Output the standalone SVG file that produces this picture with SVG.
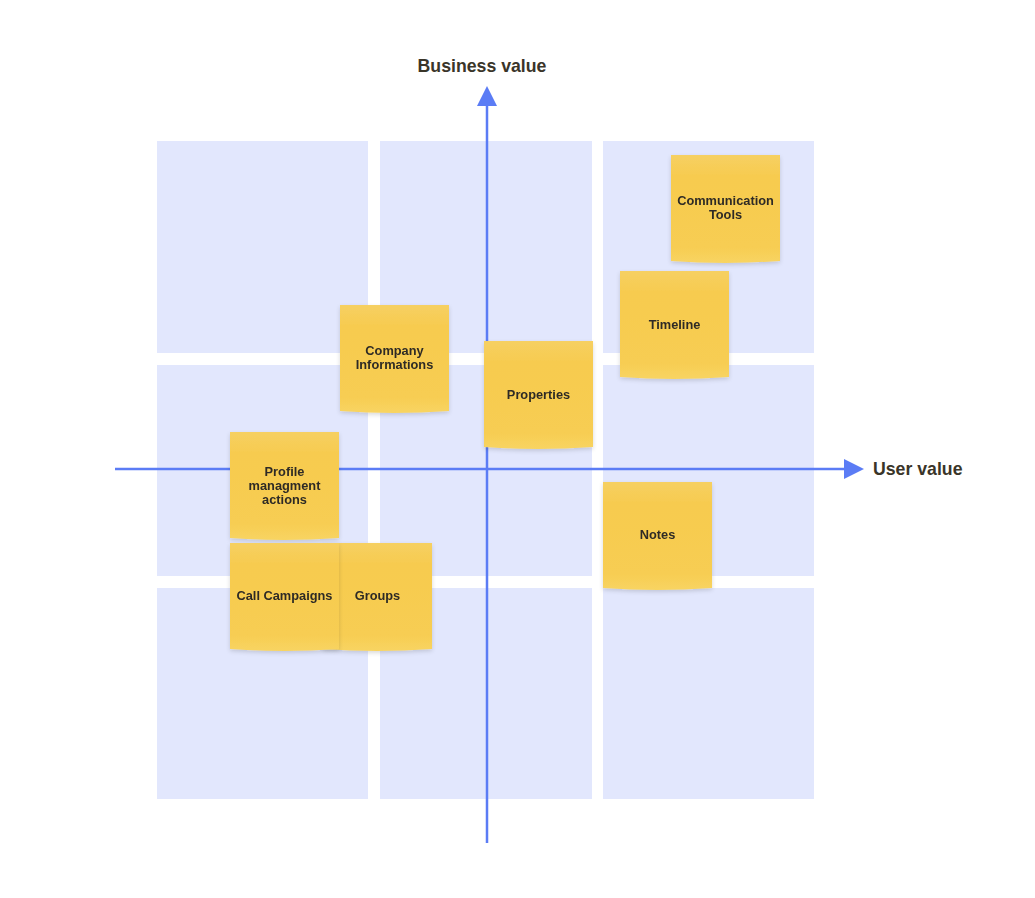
<svg xmlns="http://www.w3.org/2000/svg" width="1035" height="898" viewBox="0 0 1035 898">
<style>
.cell{fill:#E2E7FD}
.note{fill:url(#ng)}
.nt{font-family:"Liberation Sans",Arial,sans-serif;font-weight:bold;font-size:12.8px;fill:#2E2B25;text-anchor:middle}
.ax{stroke:#5B7CF5;stroke-width:2.5;fill:none}
.al{font-family:"Liberation Sans",Arial,sans-serif;font-weight:bold;font-size:17.7px;fill:#3A3529}
</style>
<defs>
<linearGradient id="ng" x1="0" y1="0" x2="0" y2="1">
<stop offset="0" stop-color="#F6D062"/>
<stop offset="0.2" stop-color="#F7CB4F"/>
<stop offset="0.85" stop-color="#F7CD52"/>
<stop offset="1" stop-color="#F8D462"/>
</linearGradient>
<filter id="sh" x="-10%" y="-10%" width="120%" height="125%">
<feDropShadow dx="0" dy="2" stdDeviation="2" flood-color="#000" flood-opacity="0.15"/>
</filter>
</defs>
<rect width="1035" height="898" fill="#fff"/>
<g id="grid">
<rect class="cell" x="157" y="141" width="211" height="212"/>
<rect class="cell" x="380" y="141" width="212" height="212"/>
<rect class="cell" x="603" y="141" width="211" height="212"/>
<rect class="cell" x="157" y="365" width="211" height="211"/>
<rect class="cell" x="380" y="365" width="212" height="211"/>
<rect class="cell" x="603" y="365" width="211" height="211"/>
<rect class="cell" x="157" y="588" width="211" height="211"/>
<rect class="cell" x="380" y="588" width="212" height="211"/>
<rect class="cell" x="603" y="588" width="211" height="211"/>
</g>
<g id="connectors">
<line class="ax" x1="487" y1="843" x2="487" y2="103"/>
<path d="M477,106 L487,86 L497,106 z" fill="#5B7CF5"/>
<line class="ax" x1="115" y1="469" x2="846" y2="469"/>
<path d="M844,459 L864,469 L844,479 z" fill="#5B7CF5"/>
</g>
<text class="al" x="482" y="72" text-anchor="middle">Business value</text>
<text class="al" x="873" y="475">User value</text>
<g id="n-comm" filter="url(#sh)">
<path class="note" d="M671,155 H780 V261 Q725,265 671,261 Z"/>
<text class="nt" x="725.5" y="205">Communication</text>
<text class="nt" x="725.5" y="219">Tools</text>
</g>
<g id="n-timeline" filter="url(#sh)">
<path class="note" d="M620,271 H729 V377 Q674,381 620,377 Z"/>
<text class="nt" x="674.5" y="328.5">Timeline</text>
</g>
<g id="n-company" filter="url(#sh)">
<path class="note" d="M340,305 H449 V411 Q394,415 340,411 Z"/>
<text class="nt" x="394.5" y="355">Company</text>
<text class="nt" x="394.5" y="369">Informations</text>
</g>
<g id="n-properties" filter="url(#sh)">
<path class="note" d="M484,341 H593 V447 Q538,451 484,447 Z"/>
<text class="nt" x="538.5" y="398.5">Properties</text>
</g>
<g id="n-profile" filter="url(#sh)">
<path class="note" d="M230,432 H339 V538 Q284,542 230,538 Z"/>
<text class="nt" x="284.5" y="476">Profile</text>
<text class="nt" x="284.5" y="490">managment</text>
<text class="nt" x="284.5" y="504">actions</text>
</g>
<g id="n-groups" filter="url(#sh)">
<path class="note" d="M323,543 H432 V649 Q377,653 323,649 Z"/>
<text class="nt" x="377.5" y="600">Groups</text>
</g>
<g id="n-call" filter="url(#sh)">
<path class="note" d="M230,543 H339 V649 Q284,653 230,649 Z"/>
<text class="nt" x="284.5" y="600">Call Campaigns</text>
</g>
<g id="n-notes" filter="url(#sh)">
<path class="note" d="M603,482 H712 V588 Q657,592 603,588 Z"/>
<text class="nt" x="657.5" y="539">Notes</text>
</g>
</svg>
